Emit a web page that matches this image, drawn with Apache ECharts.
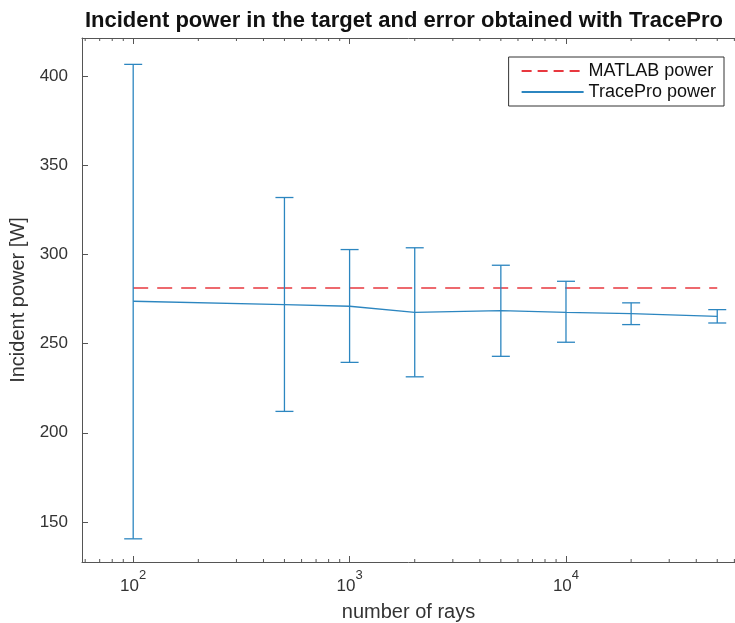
<!DOCTYPE html>
<html>
<head>
<meta charset="utf-8">
<script src="https://cdn.jsdelivr.net/npm/echarts@6/dist/echarts.min.js"></script>
<style>
  html, body { margin: 0; padding: 0; background: #fff; }
  #chart { width: 735px; height: 623px; }
</style>
</head>
<body>
<div id="chart"></div>
<script>
// number of rays (log x axis)
const rays = [100, 500, 1000, 2000, 5000, 10000, 20000, 50000];
// TracePro mean incident power [W]
const traceProPower = [273.8, 271.9, 271.0, 267.6, 268.5, 267.6, 266.9, 265.3];
// error bar ends [W]
const errLow = [140.5, 212.0, 239.5, 231.4, 242.9, 250.8, 260.7, 261.6];
const errHigh = [406.7, 332.0, 302.8, 303.8, 294.0, 285.0, 272.9, 269.1];
// MATLAB reference power [W]
const matlabPower = rays.map(() => 281.3);

const xMajorTicks = [100, 1000, 10000];
const xMinorTicks = [60, 70, 80, 90, 200, 300, 400, 500, 600, 700, 800, 900,
  2000, 3000, 4000, 5000, 6000, 7000, 8000, 9000, 20000, 30000, 40000, 50000, 60000];
const yTicks = [150, 200, 250, 300, 350, 400];

const X_MIN = 58, X_MAX = 60400;
const Y_MIN = 127.5, Y_MAX = 421.5;

const blue = '#2c86c0';
const red = '#e8383f';
const axisColor = '#555';
const textColor = '#333';
const font = "'Liberation Sans', Arial, sans-serif";

const isPow10 = v => Math.abs(Math.log10(v) - Math.round(Math.log10(v))) < 1e-6;

const chart = echarts.init(document.getElementById('chart'));

const xAxisBase = {
  type: 'log',
  logBase: 10,
  min: X_MIN,
  max: X_MAX,
  axisLine: { show: true, lineStyle: { color: axisColor, width: 1 } },
  axisTick: { inside: true, length: 6, lineStyle: { color: axisColor } },
  splitLine: { show: false },
  minorTick: { show: false },
};

const yAxisBase = {
  type: 'value',
  min: Y_MIN,
  max: Y_MAX,
  axisLine: { show: true, lineStyle: { color: axisColor, width: 1 } },
  axisTick: { inside: true, length: 6, lineStyle: { color: axisColor } },
  splitLine: { show: false },
};

// hide the marker that the legend would add to a line icon
const noMarker = { color: 'rgba(0,0,0,0)', borderWidth: 0, opacity: 0 };

const option = {
  animation: false,
  backgroundColor: '#fff',
  textStyle: { fontFamily: font },
  title: {
    text: 'Incident power in the target and error obtained with TracePro',
    left: 399,
    top: 5,
    textAlign: 'center',
    textStyle: { fontSize: 22, fontWeight: 'bold', color: '#111', fontFamily: font },
  },
  legend: {
    orient: 'vertical',
    right: 11,
    top: 57,
    data: [
      { name: 'MATLAB power', lineStyle: { type: [10, 6] }, itemStyle: noMarker },
      { name: 'TracePro power', itemStyle: noMarker },
    ],
    itemWidth: 62,
    itemHeight: 14,
    itemGap: 3,
    selectedMode: false,
    padding: [5, 8, 5, 12],
    borderColor: '#333',
    borderWidth: 1,
    backgroundColor: '#fff',
    textStyle: { fontSize: 18, color: '#111', fontFamily: font },
  },
  grid: { left: 82, right: 0, top: 38, bottom: 61, outerBoundsMode: 'none', containLabel: false },
  xAxis: [
    Object.assign({}, xAxisBase, {
      position: 'bottom',
      name: 'number of rays',
      nameLocation: 'middle',
      nameGap: 40,
      nameTextStyle: { fontSize: 20, color: textColor, fontFamily: font },
      axisLabel: {
        margin: 7,
        color: textColor,
        formatter: v => (xMajorTicks.some(t => Math.abs(t - v) / t < 1e-6) && isPow10(v))
          ? '{b|10}{s|' + Math.round(Math.log10(v)) + '}' : '',
        rich: {
          b: { fontSize: 17, lineHeight: 26, color: textColor, fontFamily: font, verticalAlign: 'bottom' },
          s: { fontSize: 13, lineHeight: 26, color: textColor, fontFamily: font, verticalAlign: 'top' },
        },
      },
    }),
    Object.assign({}, xAxisBase, { position: 'top', axisLabel: { show: false } }),
  ],
  yAxis: [
    Object.assign({}, yAxisBase, {
      position: 'left',
      name: 'Incident power [W]',
      nameLocation: 'middle',
      nameGap: 46,
      nameRotate: 90,
      nameTextStyle: { fontSize: 20, color: textColor, fontFamily: font },
      axisLabel: {
        margin: 14,
        color: textColor,
        fontSize: 17,
        fontFamily: font,
        formatter: v => (yTicks.includes(Math.round(v)) && Math.abs(v - Math.round(v)) < 1e-6) ? String(v) : '',
      },
    }),
    // right side of the box falls outside the picture
    Object.assign({}, yAxisBase, {
      position: 'right',
      axisLine: { show: false },
      axisTick: { show: false },
      axisLabel: { show: false },
    }),
  ],
  series: [
    {
      name: 'MATLAB power',
      type: 'line',
      symbol: 'none',
      data: rays.map((r, i) => [r, matlabPower[i]]),
      lineStyle: { color: red, width: 1.5, type: [15, 9] },
      itemStyle: { color: red },
      z: 3,
    },
    {
      name: 'TracePro power',
      type: 'line',
      symbol: 'none',
      data: rays.map((r, i) => [r, traceProPower[i]]),
      lineStyle: { color: blue, width: 1.3 },
      itemStyle: { color: blue },
      z: 4,
    },
    {
      // error bars
      type: 'custom',
      silent: true,
      z: 4,
      encode: { x: 0, y: [1, 2] },
      data: rays.map((r, i) => [r, errLow[i], errHigh[i]]),
      renderItem: (params, api) => {
        const x = api.value(0);
        const lo = api.coord([x, api.value(1)]);
        const hi = api.coord([x, api.value(2)]);
        const w = 9;
        const style = { stroke: blue, lineWidth: 1.3 };
        return {
          type: 'group',
          children: [
            { type: 'line', shape: { x1: lo[0], y1: lo[1], x2: hi[0], y2: hi[1] }, style },
            { type: 'line', shape: { x1: lo[0] - w, y1: lo[1], x2: lo[0] + w, y2: lo[1] }, style },
            { type: 'line', shape: { x1: hi[0] - w, y1: hi[1], x2: hi[0] + w, y2: hi[1] }, style },
          ],
        };
      },
    },
    {
      // minor ticks of the log axis, bottom and top
      type: 'custom',
      silent: true,
      z: 5,
      data: xMinorTicks.map(v => [v, Y_MIN]),
      renderItem: (params, api) => {
        const x = api.value(0);
        const b = api.coord([x, Y_MIN]);
        const t = api.coord([x, Y_MAX]);
        const style = { stroke: axisColor, lineWidth: 1 };
        return {
          type: 'group',
          children: [
            { type: 'line', shape: { x1: b[0], y1: b[1], x2: b[0], y2: b[1] - 3 }, style },
            { type: 'line', shape: { x1: t[0], y1: t[1], x2: t[0], y2: t[1] + 3 }, style },
          ],
        };
      },
    },
  ],
};

chart.setOption(option);
</script>
</body>
</html>
